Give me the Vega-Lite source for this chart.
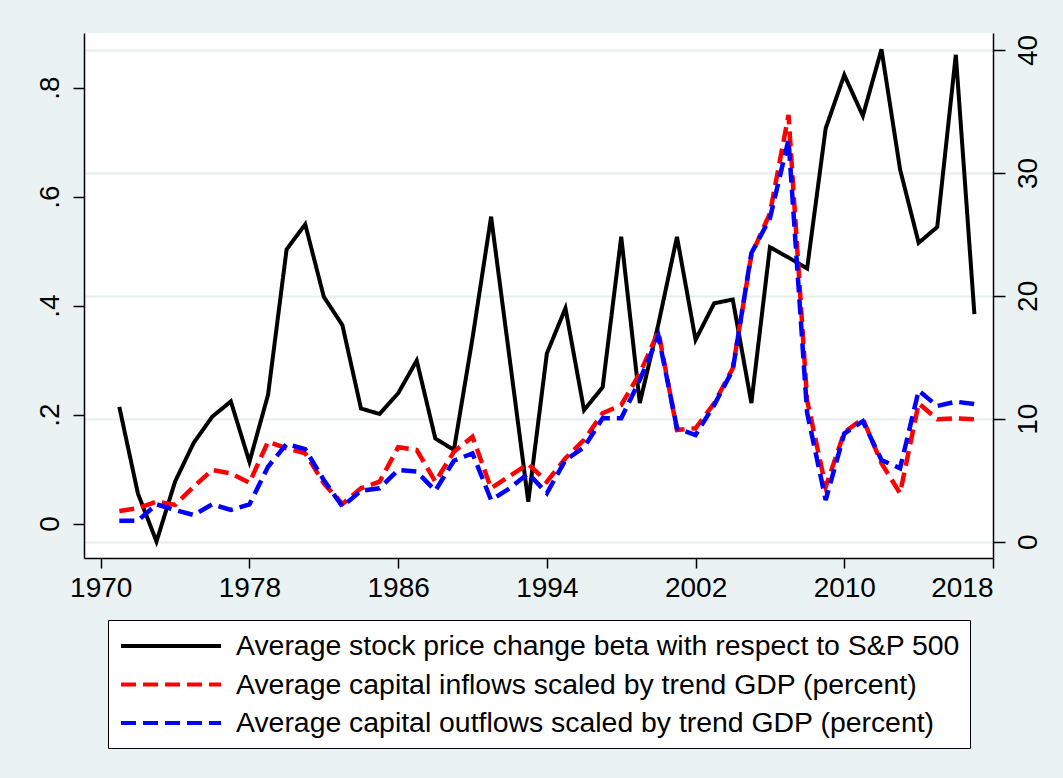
{
  "$schema": "https://vega.github.io/schema/vega-lite/v6.json",
  "width": 909,
  "height": 525,
  "autosize": "none",
  "padding": {"left": 84, "top": 33, "right": 70, "bottom": 220},
  "background": "#EAF2F3",
  "config": {
    "view": {"fill": "white", "stroke": null},
    "font": "Liberation Sans, Arial, sans-serif",
    "axis": {
      "domainColor": "#000000",
      "domainWidth": 1.5,
      "tickColor": "#000000",
      "tickWidth": 1.5,
      "labelColor": "#000000",
      "labelFontSize": 28,
      "title": null
    },
    "legend": {
      "orient": "none",
      "legendX": 24,
      "legendY": 587,
      "direction": "vertical",
      "title": null,
      "strokeColor": "#000000",
      "fillColor": "#FFFFFF",
      "padding": 10,
      "symbolType": "M-3.5714,0H3.5714",
      "symbolSize": 784,
      "symbolStrokeWidth": 4,
      "symbolOffset": 37,
      "labelFontSize": 28.4,
      "labelColor": "#000000",
      "labelOffset": 49,
      "labelLimit": 0,
      "rowPadding": 7.5
    }
  },
  "data": {
    "values": [
      {"year": 1971, "series": "beta", "value": 0.214}, {"year": 1971, "series": "inflows", "value": 2.50}, {"year": 1971, "series": "outflows", "value": 1.71},
      {"year": 1972, "series": "beta", "value": 0.055}, {"year": 1972, "series": "inflows", "value": 2.72}, {"year": 1972, "series": "outflows", "value": 1.71},
      {"year": 1973, "series": "beta", "value": -0.033}, {"year": 1973, "series": "inflows", "value": 3.26}, {"year": 1973, "series": "outflows", "value": 3.04},
      {"year": 1974, "series": "beta", "value": 0.077}, {"year": 1974, "series": "inflows", "value": 2.99}, {"year": 1974, "series": "outflows", "value": 2.58},
      {"year": 1975, "series": "beta", "value": 0.148}, {"year": 1975, "series": "inflows", "value": 4.48}, {"year": 1975, "series": "outflows", "value": 2.17},
      {"year": 1976, "series": "beta", "value": 0.196}, {"year": 1976, "series": "inflows", "value": 5.83}, {"year": 1976, "series": "outflows", "value": 3.04},
      {"year": 1977, "series": "beta", "value": 0.224}, {"year": 1977, "series": "inflows", "value": 5.56}, {"year": 1977, "series": "outflows", "value": 2.58},
      {"year": 1978, "series": "beta", "value": 0.113}, {"year": 1978, "series": "inflows", "value": 4.80}, {"year": 1978, "series": "outflows", "value": 3.04},
      {"year": 1979, "series": "beta", "value": 0.236}, {"year": 1979, "series": "inflows", "value": 8.14}, {"year": 1979, "series": "outflows", "value": 6.10},
      {"year": 1980, "series": "beta", "value": 0.503}, {"year": 1980, "series": "inflows", "value": 7.60}, {"year": 1980, "series": "outflows", "value": 7.95},
      {"year": 1981, "series": "beta", "value": 0.549}, {"year": 1981, "series": "inflows", "value": 7.19}, {"year": 1981, "series": "outflows", "value": 7.52},
      {"year": 1982, "series": "beta", "value": 0.416}, {"year": 1982, "series": "inflows", "value": 4.75}, {"year": 1982, "series": "outflows", "value": 5.02},
      {"year": 1983, "series": "beta", "value": 0.364}, {"year": 1983, "series": "inflows", "value": 3.07}, {"year": 1983, "series": "outflows", "value": 2.85},
      {"year": 1984, "series": "beta", "value": 0.211}, {"year": 1984, "series": "inflows", "value": 4.34}, {"year": 1984, "series": "outflows", "value": 4.15},
      {"year": 1985, "series": "beta", "value": 0.201}, {"year": 1985, "series": "inflows", "value": 4.88}, {"year": 1985, "series": "outflows", "value": 4.34},
      {"year": 1986, "series": "beta", "value": 0.239}, {"year": 1986, "series": "inflows", "value": 7.68}, {"year": 1986, "series": "outflows", "value": 5.83},
      {"year": 1987, "series": "beta", "value": 0.299}, {"year": 1987, "series": "inflows", "value": 7.46}, {"year": 1987, "series": "outflows", "value": 5.70},
      {"year": 1988, "series": "beta", "value": 0.156}, {"year": 1988, "series": "inflows", "value": 4.88}, {"year": 1988, "series": "outflows", "value": 4.15},
      {"year": 1989, "series": "beta", "value": 0.135}, {"year": 1989, "series": "inflows", "value": 7.32}, {"year": 1989, "series": "outflows", "value": 6.59},
      {"year": 1990, "series": "beta", "value": 0.340}, {"year": 1990, "series": "inflows", "value": 8.54}, {"year": 1990, "series": "outflows", "value": 7.19},
      {"year": 1991, "series": "beta", "value": 0.563}, {"year": 1991, "series": "inflows", "value": 4.34}, {"year": 1991, "series": "outflows", "value": 3.39},
      {"year": 1992, "series": "beta", "value": 0.302}, {"year": 1992, "series": "inflows", "value": 5.35}, {"year": 1992, "series": "outflows", "value": 4.34},
      {"year": 1993, "series": "beta", "value": 0.040}, {"year": 1993, "series": "inflows", "value": 6.32}, {"year": 1993, "series": "outflows", "value": 5.56},
      {"year": 1994, "series": "beta", "value": 0.312}, {"year": 1994, "series": "inflows", "value": 4.88}, {"year": 1994, "series": "outflows", "value": 3.94},
      {"year": 1995, "series": "beta", "value": 0.395}, {"year": 1995, "series": "inflows", "value": 6.79}, {"year": 1995, "series": "outflows", "value": 6.65},
      {"year": 1996, "series": "beta", "value": 0.208}, {"year": 1996, "series": "inflows", "value": 8.28}, {"year": 1996, "series": "outflows", "value": 7.68},
      {"year": 1997, "series": "beta", "value": 0.250}, {"year": 1997, "series": "inflows", "value": 10.45}, {"year": 1997, "series": "outflows", "value": 10.04},
      {"year": 1998, "series": "beta", "value": 0.526}, {"year": 1998, "series": "inflows", "value": 11.12}, {"year": 1998, "series": "outflows", "value": 10.04},
      {"year": 1999, "series": "beta", "value": 0.221}, {"year": 1999, "series": "inflows", "value": 13.70}, {"year": 1999, "series": "outflows", "value": 13.16},
      {"year": 2000, "series": "beta", "value": 0.366}, {"year": 2000, "series": "inflows", "value": 17.09}, {"year": 2000, "series": "outflows", "value": 16.74},
      {"year": 2001, "series": "beta", "value": 0.526}, {"year": 2001, "series": "inflows", "value": 9.09}, {"year": 2001, "series": "outflows", "value": 9.23},
      {"year": 2002, "series": "beta", "value": 0.337}, {"year": 2002, "series": "inflows", "value": 9.23}, {"year": 2002, "series": "outflows", "value": 8.68},
      {"year": 2003, "series": "beta", "value": 0.404}, {"year": 2003, "series": "inflows", "value": 11.26}, {"year": 2003, "series": "outflows", "value": 11.12},
      {"year": 2004, "series": "beta", "value": 0.411}, {"year": 2004, "series": "inflows", "value": 14.11}, {"year": 2004, "series": "outflows", "value": 13.97},
      {"year": 2005, "series": "beta", "value": 0.221}, {"year": 2005, "series": "inflows", "value": 23.30}, {"year": 2005, "series": "outflows", "value": 23.47},
      {"year": 2006, "series": "beta", "value": 0.507}, {"year": 2006, "series": "inflows", "value": 26.72}, {"year": 2006, "series": "outflows", "value": 26.31},
      {"year": 2007, "series": "beta", "value": 0.488}, {"year": 2007, "series": "inflows", "value": 34.72}, {"year": 2007, "series": "outflows", "value": 32.69},
      {"year": 2008, "series": "beta", "value": 0.468}, {"year": 2008, "series": "inflows", "value": 11.50}, {"year": 2008, "series": "outflows", "value": 10.50},
      {"year": 2009, "series": "beta", "value": 0.725}, {"year": 2009, "series": "inflows", "value": 4.47}, {"year": 2009, "series": "outflows", "value": 3.39},
      {"year": 2010, "series": "beta", "value": 0.823}, {"year": 2010, "series": "inflows", "value": 8.90}, {"year": 2010, "series": "outflows", "value": 8.80},
      {"year": 2011, "series": "beta", "value": 0.748}, {"year": 2011, "series": "inflows", "value": 10.00}, {"year": 2011, "series": "outflows", "value": 9.80},
      {"year": 2012, "series": "beta", "value": 0.870}, {"year": 2012, "series": "inflows", "value": 6.38}, {"year": 2012, "series": "outflows", "value": 6.65},
      {"year": 2013, "series": "beta", "value": 0.650}, {"year": 2013, "series": "inflows", "value": 3.94}, {"year": 2013, "series": "outflows", "value": 5.97},
      {"year": 2014, "series": "beta", "value": 0.515}, {"year": 2014, "series": "inflows", "value": 11.26}, {"year": 2014, "series": "outflows", "value": 12.29},
      {"year": 2015, "series": "beta", "value": 0.544}, {"year": 2015, "series": "inflows", "value": 9.96}, {"year": 2015, "series": "outflows", "value": 11.04},
      {"year": 2016, "series": "beta", "value": 0.860}, {"year": 2016, "series": "inflows", "value": 10.04}, {"year": 2016, "series": "outflows", "value": 11.39},
      {"year": 2017, "series": "beta", "value": 0.384}, {"year": 2017, "series": "inflows", "value": 9.96}, {"year": 2017, "series": "outflows", "value": 11.20}
    ]
  },
  "encoding": {
    "x": {
      "field": "year",
      "type": "quantitative",
      "scale": {"domain": [1969.1, 2018], "nice": false, "zero": false},
      "axis": {
        "values": [1970, 1978, 1986, 1994, 2002, 2010, 2018],
        "format": "d",
        "grid": false,
        "tickSize": 10,
        "labelPadding": 6
      }
    },
    "color": {
      "field": "series",
      "type": "nominal",
      "scale": {"domain": ["beta", "inflows", "outflows"], "range": ["#000000", "#FF0000", "#0000FF"]},
      "legend": {
        "labelExpr": "datum.label == 'beta' ? 'Average stock price change beta with respect to S&P 500' : datum.label == 'inflows' ? 'Average capital inflows scaled by trend GDP (percent)' : 'Average capital outflows scaled by trend GDP (percent)'"
      }
    },
    "strokeDash": {
      "field": "series",
      "type": "nominal",
      "scale": {"domain": ["beta", "inflows", "outflows"], "range": [[1, 0], [15, 7], [15, 7]]},
      "legend": {
        "labelExpr": "datum.label == 'beta' ? 'Average stock price change beta with respect to S&P 500' : datum.label == 'inflows' ? 'Average capital inflows scaled by trend GDP (percent)' : 'Average capital outflows scaled by trend GDP (percent)'"
      }
    }
  },
  "layer": [
    {
      "transform": [{"filter": "datum.series == 'beta'"}],
      "mark": {"type": "line", "strokeWidth": 4},
      "encoding": {
        "y": {
          "field": "value",
          "type": "quantitative",
          "scale": {"domain": [-0.0633, 0.9], "nice": false, "zero": false},
          "axis": {
            "orient": "left",
            "values": [0, 0.2, 0.4, 0.6, 0.8],
            "labelExpr": "datum.value == 0 ? '0' : replace(format(datum.value, '.1f'), '0.', '.')",
            "labelAngle": -90,
            "labelAlign": "center",
            "labelBaseline": "bottom",
            "grid": false,
            "tickSize": 11,
            "labelPadding": 9
          }
        }
      }
    },
    {
      "layer": [
        {
          "transform": [{"filter": "datum.series == 'inflows'"}],
          "mark": {"type": "line", "strokeWidth": 4.5}
        },
        {
          "transform": [{"filter": "datum.series == 'outflows'"}],
          "mark": {"type": "line", "strokeWidth": 4.5}
        }
      ],
      "encoding": {
        "y": {
          "field": "value",
          "type": "quantitative",
          "scale": {"domain": [-1.326, 41.383], "nice": false, "zero": false},
          "axis": {
            "orient": "right",
            "values": [0, 10, 20, 30, 40],
            "labelAngle": -90,
            "labelAlign": "center",
            "labelBaseline": "top",
            "grid": true,
            "gridColor": "#E6EEF0",
            "gridWidth": 2,
            "tickSize": 12,
            "labelPadding": 9
          }
        }
      }
    }
  ],
  "resolve": {"scale": {"y": "independent"}}
}
